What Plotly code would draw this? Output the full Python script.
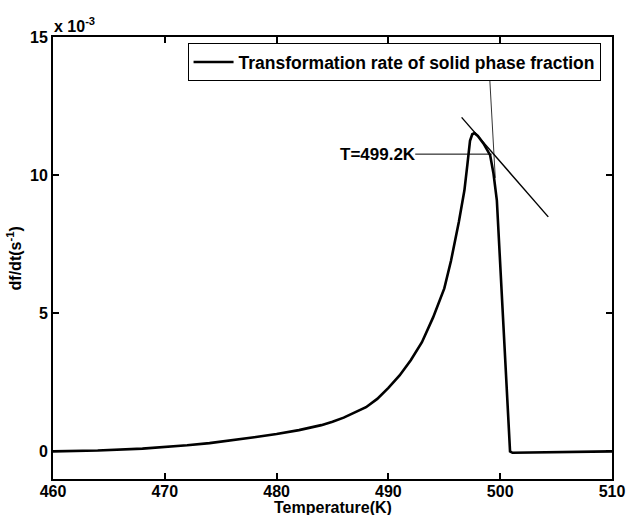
import plotly.graph_objects as go

# Temperature (K) and transformation rate (units of 1e-3 s^-1)
temperature = [460, 464, 468, 470, 472, 474, 476, 478, 480, 482, 484, 485, 486, 487, 488,
               489, 490, 491, 492, 493, 494, 495, 495.6, 496.3, 496.8, 497.07, 497.3,
               497.5, 497.7, 498.0, 498.5, 499.1, 499.4, 499.7, 500.0, 500.3, 500.5,
               500.7, 500.88, 501.1, 505, 510]
rate = [0.0, 0.03, 0.10, 0.15, 0.22, 0.30, 0.40, 0.51, 0.63, 0.77, 0.95, 1.07, 1.22, 1.40, 1.60,
        1.90, 2.30, 2.75, 3.30, 3.95, 4.85, 5.90, 6.90, 8.30, 9.45, 10.40, 11.24,
        11.48, 11.52, 11.42, 11.15, 10.72, 10.06, 9.09, 6.68, 4.26, 2.57,
        1.00, 0.00, -0.05, -0.04, 0.0]

tangent_T = [496.55, 504.3]
tangent_rate = [12.09, 8.49]
steep_T = [498.98, 499.56]
steep_rate = [14.1, 9.9]
marker_T = [492.4, 499.24]
marker_rate = [10.76, 10.76]
marker_label = "T=499.2K"

x_ticks = [460, 470, 480, 490, 500, 510]
y_ticks = [0, 5, 10, 15]

FONT = "Liberation Sans"

fig = go.Figure()
fig.add_trace(go.Scatter(x=temperature, y=rate, mode="lines",
                         line=dict(color="black", width=2.6),
                         name="Transformation rate of solid phase fraction"))
fig.add_trace(go.Scatter(x=tangent_T, y=tangent_rate, mode="lines",
                         line=dict(color="black", width=1.4), showlegend=False))
fig.add_trace(go.Scatter(x=steep_T, y=steep_rate, mode="lines",
                         line=dict(color="black", width=0.8), showlegend=False))
fig.add_trace(go.Scatter(x=marker_T, y=marker_rate, mode="lines",
                         line=dict(color="black", width=1.0), showlegend=False))

fig.add_annotation(x=marker_T[0], y=marker_rate[0], text=marker_label, showarrow=False,
                   xanchor="right", yanchor="middle", xshift=3,
                   font=dict(family=FONT, size=17, color="black", weight="bold"))
fig.add_annotation(x=0, y=1, xref="paper", yref="paper", text="x 10<sup>-3</sup>",
                   showarrow=False, xanchor="left", yanchor="bottom", xshift=-1, yshift=0,
                   font=dict(family=FONT, size=16, color="black", weight="bold"))
fig.add_annotation(x=0.5, y=-0.065, xref="paper", yref="paper", text="Temperature(K)",
                   showarrow=False, xanchor="center", yanchor="middle",
                   font=dict(family=FONT, size=16, color="black", weight="bold"))
fig.add_annotation(x=-0.069, y=0.5, xref="paper", yref="paper", text="df/dt(s<sup>-1</sup>)",
                   showarrow=False, xanchor="center", yanchor="middle", textangle=-90,
                   font=dict(family=FONT, size=16, color="black", weight="bold"))

axis_common = dict(showline=True, linecolor="black", linewidth=2, mirror="ticks",
                   ticks="inside", ticklen=6, tickwidth=2, tickcolor="black",
                   showgrid=False, zeroline=False,
                   tickfont=dict(family=FONT, size=16, color="black", weight="bold"))
fig.update_xaxes(range=[460, 510], tickvals=x_ticks, ticklabelstandoff=-3, **axis_common)
fig.update_yaxes(range=[-1, 15], tickvals=y_ticks, **axis_common)

fig.update_layout(
    width=628, height=515,
    margin=dict(l=53, r=16, t=37, b=36, autoexpand=False),
    plot_bgcolor="white", paper_bgcolor="white",
    font=dict(family=FONT, size=16, color="black"),
    legend=dict(x=0.2407, y=0.986, xanchor="left", yanchor="top",
                bgcolor="white", bordercolor="black", borderwidth=1,
                font=dict(family=FONT, size=17.5, color="black", weight="bold"),
                itemwidth=40, tracegroupgap=0),
    showlegend=True,
)

fig.write_html("out.html")
